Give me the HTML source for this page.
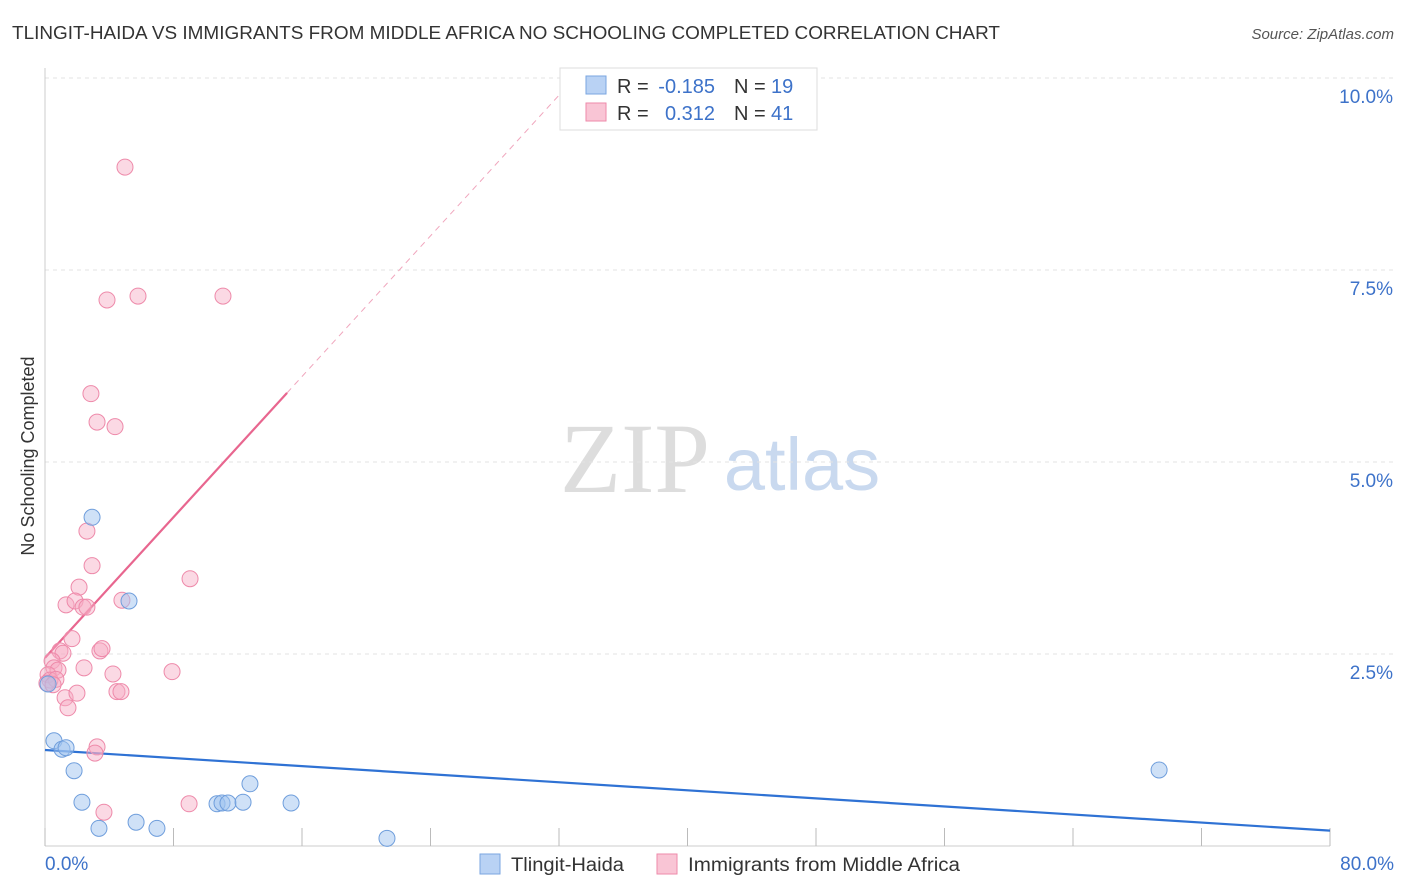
<!DOCTYPE html>
<html><head><meta charset="utf-8"><style>
body{margin:0;background:#fff;font-family:"Liberation Sans",sans-serif;}
svg{display:block}
</style></head><body>
<svg id="c" width="1406" height="892" xmlns="http://www.w3.org/2000/svg">
<text x="12" y="39" font-size="18" fill="#333" textLength="988" lengthAdjust="spacingAndGlyphs">TLINGIT-HAIDA VS IMMIGRANTS FROM MIDDLE AFRICA NO SCHOOLING COMPLETED CORRELATION CHART</text>
<text x="1394" y="39" font-size="15" fill="#555" font-style="italic" text-anchor="end">Source: ZipAtlas.com</text>
<text x="34" y="456" font-size="18" fill="#333" text-anchor="middle" transform="rotate(-90 34 456)">No Schooling Completed</text>
<g><text x="635" y="492" font-size="100" fill="#ddd" font-family="Liberation Serif,serif" text-anchor="middle">ZIP</text><text x="802" y="490" font-size="74" fill="#c9d9ef" text-anchor="middle">atlas</text></g>
<g id="grid"></g><g id="axes"></g><g id="trend"></g><g id="pts"></g>
<g>
<rect x="560" y="68" width="257" height="62" fill="#fff" stroke="#ddd"/>
<rect x="586" y="76" width="20" height="18" fill="#b9d2f4" stroke="#7aa6e0"/>
<rect x="586" y="103" width="20" height="18" fill="#f9c5d5" stroke="#ee8aaa"/>
<text x="617" y="93" font-size="20" fill="#333">R =</text>
<text x="715" y="93" font-size="20" fill="#3d72c9" text-anchor="end">-0.185</text>
<text x="734" y="93" font-size="20" fill="#333">N =</text>
<text x="771" y="93" font-size="20" fill="#3d72c9">19</text>
<text x="617" y="120" font-size="20" fill="#333">R =</text>
<text x="715" y="120" font-size="20" fill="#3d72c9" text-anchor="end">0.312</text>
<text x="734" y="120" font-size="20" fill="#333">N =</text>
<text x="771" y="120" font-size="20" fill="#3d72c9">41</text>
</g>
<g>
<rect x="480" y="854" width="20" height="20" fill="#b9d2f4" stroke="#7aa6e0"/>
<text x="511" y="871" font-size="19" fill="#333" textLength="113" lengthAdjust="spacingAndGlyphs">Tlingit-Haida</text>
<rect x="657" y="854" width="20" height="20" fill="#f9c5d5" stroke="#ee8aaa"/>
<text x="688" y="871" font-size="19" fill="#333" textLength="272" lengthAdjust="spacingAndGlyphs">Immigrants from Middle Africa</text>
</g>
</svg>
<script>
const blueX=[2.93,5.23,0.56,1.06,1.31,1.81,2.30,3.36,5.67,6.97,10.71,11.02,11.39,12.33,12.76,15.32,21.29,69.36,0.19];
const blueY=[4.28,3.19,1.37,1.26,1.28,0.98,0.57,0.23,0.31,0.23,0.55,0.56,0.56,0.57,0.81,0.56,0.10,0.99,2.11];
const pinkX=[4.98,3.86,5.79,11.08,2.86,3.24,4.36,2.61,2.93,9.03,2.12,1.31,1.87,2.37,2.61,4.79,1.68,0.93,1.12,3.42,3.55,0.44,0.56,0.81,0.19,0.31,0.68,2.43,4.23,7.91,1.25,1.99,4.48,4.73,1.43,3.24,3.11,3.67,8.97,0.12,0.50];
const pinkY=[8.84,7.11,7.16,7.16,5.89,5.52,5.46,4.10,3.65,3.48,3.37,3.14,3.19,3.11,3.11,3.20,2.70,2.54,2.51,2.54,2.57,2.41,2.32,2.29,2.23,2.16,2.17,2.32,2.24,2.27,1.93,1.99,2.01,2.01,1.80,1.29,1.21,0.44,0.55,2.12,2.10];
const yTicks=[2.5,5.0,7.5,10.0];
const xTickLabels=["0.0%","80.0%"];
const blueTrend=[1.25,0.20];
const pinkTrend=[2.45,5.90,15.07];
const NS="http://www.w3.org/2000/svg";
const sx=v=>45+v/80*1285, sy=v=>846-v/2.5*192;
function mk(t,a,p){const e=document.createElementNS(NS,t);for(const k in a)e.setAttribute(k,a[k]);document.getElementById(p).appendChild(e);return e;}
yTicks.forEach(t=>{
 const l=mk('line',{x1:45,x2:1394,y1:sy(t),y2:sy(t),stroke:'#e3e3e3','stroke-dasharray':'4,4'},'grid');
 
 
 const tx=mk('text',{x:1393,y:sy(t)+25,'font-size':19,fill:'#3d72c9','text-anchor':'end'},'grid');tx.textContent=t.toFixed(1)+'%';
 
 
});
const ax=mk('line',{x1:45,x2:45,y1:68,y2:846,stroke:'#ccc'},'axes');


const xa=mk('line',{x1:45,x2:1330,y1:846,y2:846,stroke:'#ccc'},'axes');


for(let i=0;i<=10;i++){const t=mk('line',{x1:sx(i*8),x2:sx(i*8),y1:828,y2:846,stroke:'#bbb'},'axes');
 
 }
const l0=mk('text',{x:45,y:870,'font-size':19,fill:'#3d72c9'},'axes');l0.textContent=xTickLabels[0];


const l1=mk('text',{x:1394,y:870,'font-size':19,fill:'#3d72c9','text-anchor':'end'},'axes');l1.textContent=xTickLabels[1];


const bt=mk('line',{x1:sx(0),y1:sy(blueTrend[0]),x2:sx(80),y2:sy(blueTrend[1]),stroke:'#2f72d4','stroke-width':2.2},'trend');


const slope=(pinkTrend[1]-pinkTrend[0])/pinkTrend[2];
const xEnd=(10-pinkTrend[0])/slope;
const pd=mk('line',{x1:sx(pinkTrend[2]),y1:sy(pinkTrend[1]),x2:sx(xEnd),y2:sy(10),stroke:'#f0a6bd','stroke-width':1,'stroke-dasharray':'6,5'},'trend');


const pt=mk('line',{x1:sx(0),y1:sy(pinkTrend[0]),x2:sx(pinkTrend[2]),y2:sy(pinkTrend[1]),stroke:'#e8668f','stroke-width':2.2},'trend');


pinkX.forEach((x,i)=>{const c=mk('circle',{cx:sx(x),cy:sy(pinkY[i]),r:8,fill:'rgba(246,170,195,0.45)',stroke:'#ee8aaa','stroke-width':1},'pts');
 
 });
blueX.forEach((x,i)=>{const c=mk('circle',{cx:sx(x),cy:sy(blueY[i]),r:8,fill:'rgba(160,195,240,0.5)',stroke:'#6f9edc','stroke-width':1},'pts');
 
 });
</script>
</body></html>
